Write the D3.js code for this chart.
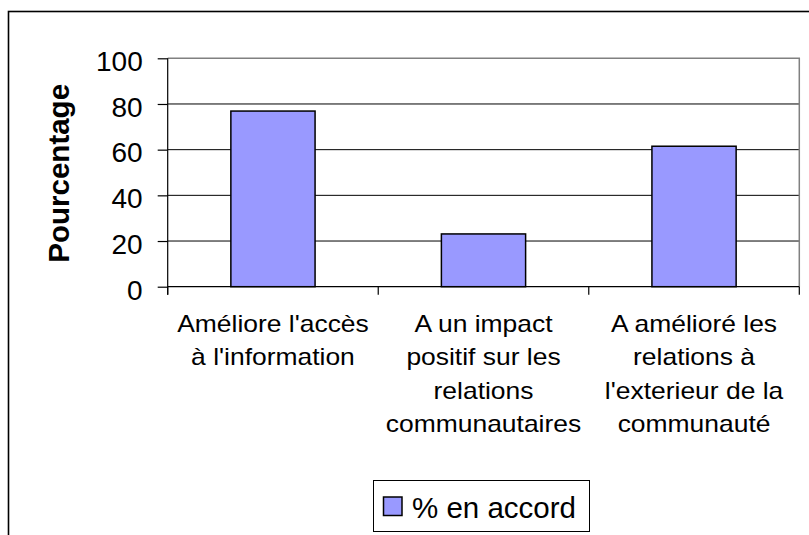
<!DOCTYPE html>
<html>
<head>
<meta charset="utf-8">
<script src="https://cdn.jsdelivr.net/npm/d3@7"></script>
<style>
	body { margin: 0; background: #fff; }
	text { font-family: "Liberation Sans", Arial, sans-serif; fill: #000; }
</style>
</head>
<body>
<svg id="chart" width="809" height="535"></svg>
<script>
// data
const categories = [
	["Améliore l'accès", "à l'information"],
	["A un impact", "positif sur les", "relations", "communautaires"],
	["A amélioré les", "relations à", "l'exterieur de la", "communauté"]
];
const values = [76.9, 23.1, 61.5];
const yTicks = [0, 20, 40, 60, 80, 100];
const seriesName = "% en accord";
const yTitle = "Pourcentage";

let svg = d3.select("#chart");
let plot = { left: 167.7, right: 799.3, top: 58.3, bottom: 286.7 };

// outer chart frame (runs past the bottom and right edges)
svg.append("rect")
	.attr("x", 8.5).attr("y", 11.5)
	.attr("width", 900).attr("height", 700)
	.attr("fill", "none")
	.attr("stroke", "#000")
	.attr("stroke-width", 1.6);

let x = d3.scaleBand()
	.domain(d3.range(categories.length))
	.range([plot.left, plot.right])
	.paddingInner(0).paddingOuter(0);

let y = d3.scaleLinear()
	.domain([0, 100])
	.range([plot.bottom, plot.top]);

// gridlines
svg.append("g")
	.selectAll("line")
	.data(yTicks.filter(d => d > 0 && d < 100))
	.enter().append("line")
	.attr("x1", plot.left).attr("x2", plot.right)
	.attr("y1", d => y(d)).attr("y2", d => y(d))
	.attr("stroke", "#000")
	.attr("stroke-width", 1);

// plot area border (top and right, gray)
svg.append("path")
	.attr("d", `M${plot.left},${plot.top}H${plot.right}V${plot.bottom}`)
	.attr("fill", "none")
	.attr("stroke", "#808080")
	.attr("stroke-width", 1.5);

// bars
svg.append("g")
	.selectAll("rect")
	.data(values)
	.enter().append("rect")
	.attr("x", (d, i) => x(i) + x.bandwidth() * 0.3)
	.attr("width", x.bandwidth() * 0.4)
	.attr("y", d => y(d))
	.attr("height", d => y(0) - y(d))
	.attr("fill", "#9999ff")
	.attr("stroke", "#000")
	.attr("stroke-width", 1.5);

// y axis
let yAxis = svg.append("g")
	.attr("transform", `translate(${plot.left},0)`)
	.call(d3.axisLeft(y).tickValues(yTicks).tickSize(10).tickPadding(15));
yAxis.select(".domain").remove();
yAxis.append("line")
	.attr("x1", 0).attr("x2", 0)
	.attr("y1", plot.top).attr("y2", plot.bottom + 8)
	.attr("stroke", "#000").attr("stroke-width", 1.2);
yAxis.selectAll(".tick line").attr("stroke", "#000").attr("stroke-width", 1.2);
yAxis.selectAll(".tick text")
	.attr("font-size", 28)
	.attr("dy", "0.44em")
	.style("font-family", "'Liberation Sans', Arial, sans-serif");

// x axis line with boundary ticks
let xAxis = svg.append("g");
xAxis.append("line")
	.attr("x1", plot.left).attr("x2", plot.right)
	.attr("y1", plot.bottom).attr("y2", plot.bottom)
	.attr("stroke", "#000").attr("stroke-width", 1.2);
xAxis.selectAll(".bt")
	.data(d3.range(categories.length + 1))
	.enter().append("line")
	.attr("class", "bt")
	.attr("x1", i => plot.left + i * x.step())
	.attr("x2", i => plot.left + i * x.step())
	.attr("y1", plot.bottom).attr("y2", plot.bottom + 8)
	.attr("stroke", "#000").attr("stroke-width", 1.2);

// category labels (wrapped)
let labels = svg.append("g")
	.selectAll("text")
	.data(categories)
	.enter().append("text")
	.attr("transform", (d, i) => `translate(${x(i) + x.bandwidth() / 2},0) scale(1.15,1)`)
	.attr("text-anchor", "middle")
	.attr("font-size", 23);
labels.selectAll("tspan")
	.data(d => d)
	.enter().append("tspan")
	.attr("x", 0)
	.attr("y", (d, j) => 331.7 + j * 33.5)
	.text(d => d);

// y title
svg.append("text")
	.attr("transform", "translate(69,173.3) rotate(-90)")
	.attr("text-anchor", "middle")
	.attr("font-size", 29.5)
	.attr("font-weight", "bold")
	.text(yTitle);

// legend
let legend = svg.append("g");
legend.append("rect")
	.attr("x", 373.5).attr("y", 480.5)
	.attr("width", 216).attr("height", 51)
	.attr("fill", "#fff")
	.attr("stroke", "#000").attr("stroke-width", 1);
legend.append("rect")
	.attr("x", 383.5).attr("y", 497)
	.attr("width", 18.5).attr("height", 18.5)
	.attr("fill", "#9999ff")
	.attr("stroke", "#000").attr("stroke-width", 1.5);
legend.append("text")
	.attr("x", 412).attr("y", 518)
	.attr("font-size", 29.5)
	.text(seriesName);
</script>
</body>
</html>
